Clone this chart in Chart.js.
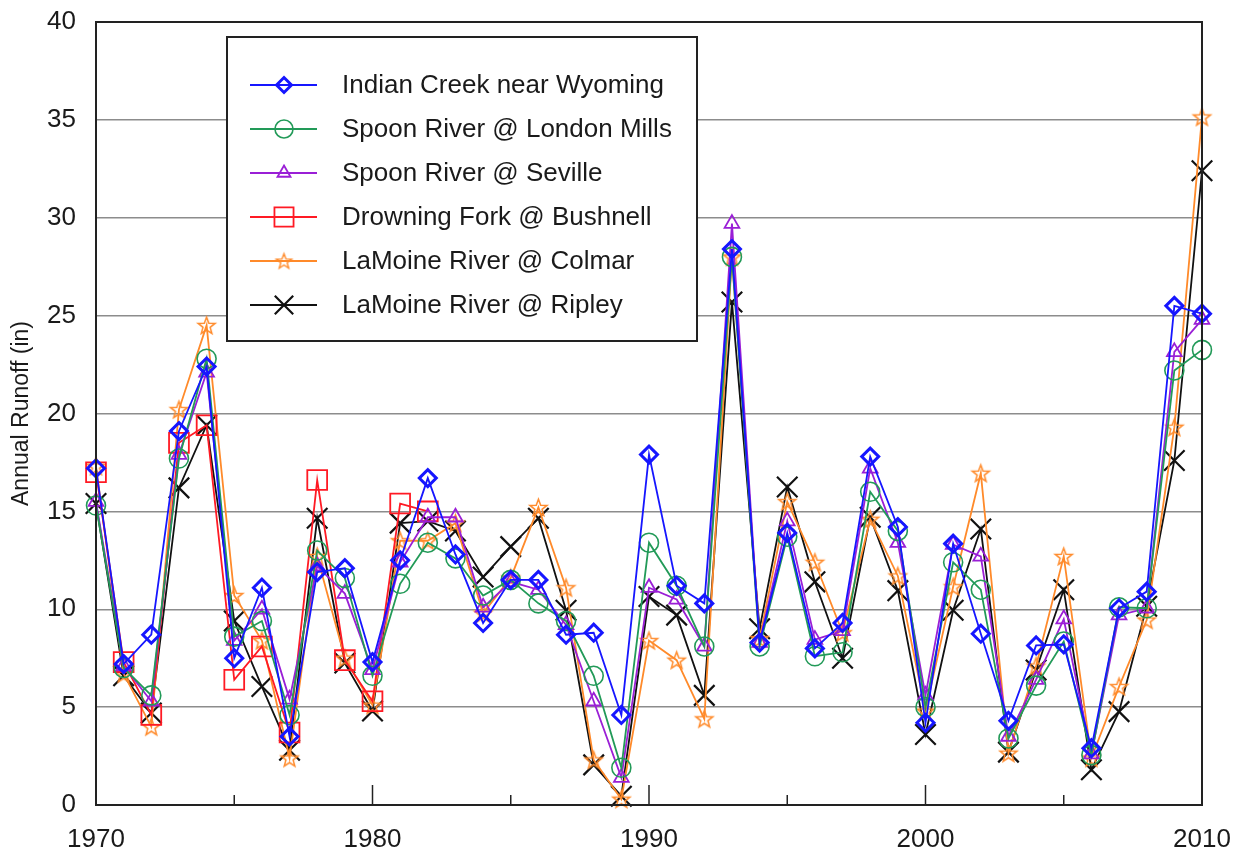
<!DOCTYPE html>
<html>
<head>
<meta charset="utf-8">
<script src="https://cdn.jsdelivr.net/npm/chart.js@4/dist/chart.umd.min.js"></script>
<style>
html,body{margin:0;padding:0;background:#fff;}
#wrap{width:1245px;height:853px;}
</style>
</head>
<body>
<div id="wrap"><canvas id="c" width="1245" height="853"></canvas></div>
<script>
const years = [1970,1971,1972,1973,1974,1975,1976,1977,1978,1979,1980,1981,1982,1983,1984,1985,1986,1987,1988,1989,1990,1991,1992,1993,1994,1995,1996,1997,1998,1999,2000,2001,2002,2003,2004,2005,2006,2007,2008,2009,2010];
const xTickLabels = [1970,1980,1990,2000,2010];
const yTickValues = [0,5,10,15,20,25,30,35,40];

const indianCreek = [17.2,7.2,8.7,19.1,22.4,7.5,11.1,3.5,11.9,12.1,7.3,12.5,16.7,12.8,9.3,11.5,11.5,8.7,8.8,4.6,17.9,11.2,10.3,28.4,8.3,13.9,8.0,9.3,17.8,14.2,4.2,13.35,8.75,4.3,8.15,8.2,2.9,10.05,10.9,25.5,25.1];
const londonMills = [15.3,7.0,5.6,17.7,22.8,8.6,9.4,4.6,13.0,11.6,6.6,11.3,13.4,12.6,10.7,11.5,10.3,9.4,6.6,1.9,13.4,11.2,8.1,28.0,8.1,13.7,7.6,7.8,16.0,14.0,5.0,12.4,11.0,3.4,6.1,8.35,2.55,10.1,10.05,22.2,23.25];
const seville = [15.5,7.1,5.3,17.9,22.1,8.4,10.0,5.4,12.2,10.8,6.9,12.4,14.7,14.7,10.1,11.4,11.0,9.2,5.3,1.4,11.1,10.5,8.1,29.7,8.3,14.5,8.45,8.9,17.2,13.4,5.6,13.3,12.7,3.5,6.4,9.5,2.6,9.7,10.05,23.15,24.8];
const drowningFork = [17.0,7.3,4.6,18.5,19.4,6.4,8.1,3.7,16.6,7.4,5.3,15.4,15.0,null,null,null,null,null,null,null,null,null,null,null,null,null,null,null,null,null,null,null,null,null,null,null,null,null,null,null,null];
const colmar = [17.3,6.7,4.0,20.2,24.5,10.7,8.4,2.4,12.7,7.5,5.1,13.5,13.5,14.4,9.8,11.6,15.2,11.1,2.3,0.3,8.4,7.4,4.4,28.0,8.5,15.5,12.4,8.8,14.6,11.7,4.8,11.15,16.95,2.65,7.1,12.7,2.4,6.05,9.45,19.3,35.15];
const ripley = [15.4,6.6,4.7,16.2,19.4,9.4,6.05,2.8,14.65,7.25,4.8,14.4,14.5,14.0,11.65,13.2,14.65,9.95,2.05,0.45,10.65,9.7,5.6,25.7,9.0,16.25,11.4,7.5,14.7,10.95,3.6,9.95,14.1,2.7,6.9,11.0,1.8,4.77,10.15,17.6,32.4];

const seriesNames = ['Indian Creek near Wyoming','Spoon River @ London Mills','Spoon River @ Seville','Drowning Fork @ Bushnell','LaMoine River @ Colmar','LaMoine River @ Ripley'];
const seriesValues = [indianCreek, londonMills, seville, drowningFork, colmar, ripley];

function makeStar(color, r, lw){
  const s = Math.ceil(r*2+lw*2+2);
  const cv = document.createElement('canvas');
  cv.width = s; cv.height = s;
  const g = cv.getContext('2d');
  g.strokeStyle = color; g.lineWidth = lw; g.lineJoin='miter';
  const cx = s/2, cy = s/2 + r*0.08, ri = r*0.42;
  g.beginPath();
  for(let i=0;i<10;i++){
    const a = -Math.PI/2 + i*Math.PI/5;
    const rr = i%2===0 ? r : ri;
    const px = cx + rr*Math.cos(a), py = cy + rr*Math.sin(a);
    if(i===0) g.moveTo(px,py); else g.lineTo(px,py);
  }
  g.closePath(); g.stroke();
  return cv;
}
const starImg = makeStar('#ff8a2a', 9, 1.5);
const starLegend = makeStar('#ff8a2a', 8, 1.4);

const styles = [
  {color:'#1616ff', pointStyle:'rectRot', radius:8.5, pbw:3, legendStyle:'rectRot', legendRadius:7.5},
  {color:'#229a58', pointStyle:'circle', radius:9.5, pbw:1.6, legendStyle:'circle', legendRadius:9},
  {color:'#9a1fd6', pointStyle:'triangle', radius:8.5, pbw:1.8, legendStyle:'triangle', legendRadius:7.5},
  {color:'#ff1a24', pointStyle:'rect', radius:14, pbw:1.8, legendStyle:'rect', legendRadius:13.5},
  {color:'#ff8a2a', pointStyle:starImg, radius:9, pbw:1.5, legendStyle:starLegend, legendRadius:8},
  {color:'#111111', pointStyle:'crossRot', radius:14.5, pbw:2.2, legendStyle:'crossRot', legendRadius:13}
];

const datasets = seriesValues.map((vals, i) => ({
  label: seriesNames[i],
  data: years.map((y, k) => ({x: y, y: vals[k]})),
  borderColor: styles[i].color,
  backgroundColor: 'rgba(255,255,255,0)',
  borderWidth: 1.8,
  pointStyle: styles[i].pointStyle,
  pointRadius: styles[i].radius,
  pointBorderWidth: styles[i].pbw,
  pointBorderColor: styles[i].color,
  pointBackgroundColor: 'rgba(255,255,255,0)',
  tension: 0,
  spanGaps: false,
  clip: false
}));

const FONT = "'Liberation Sans', Arial, Helvetica, sans-serif";

const framePlugin = {
  id: 'frame',
  afterDraw(chart){
    const ctx = chart.ctx, a = chart.chartArea, xs = chart.scales.x;
    ctx.save();
    ctx.strokeStyle = '#222'; ctx.lineWidth = 1.5;
    for(let yr = 1970; yr <= 2010; yr += 5){
      const px = xs.getPixelForValue(yr);
      const len = (yr % 10 === 0) ? 20 : 10;
      ctx.beginPath(); ctx.moveTo(px, a.bottom); ctx.lineTo(px, a.bottom - len); ctx.stroke();
    }
    ctx.strokeStyle = '#222'; ctx.lineWidth = 2;
    ctx.strokeRect(a.left, a.top, a.right - a.left, a.bottom - a.top);
    const bx = 227, by = 37, bw = 470, bh = 304;
    ctx.fillStyle = '#fff';
    ctx.fillRect(bx, by, bw, bh);
    ctx.strokeStyle = '#222'; ctx.lineWidth = 2;
    ctx.strokeRect(bx, by, bw, bh);
    ctx.font = '26px ' + FONT;
    ctx.textBaseline = 'middle'; ctx.textAlign = 'left';
    for(let i=0;i<seriesNames.length;i++){
      const cy = 85 + i*44;
      const st = styles[i];
      ctx.strokeStyle = st.color; ctx.lineWidth = 1.8;
      ctx.beginPath(); ctx.moveTo(250, cy); ctx.lineTo(317, cy); ctx.stroke();
      ctx.lineWidth = st.pbw;
      ctx.fillStyle = 'rgba(255,255,255,0)';
      Chart.helpers.drawPoint(ctx, {pointStyle: st.legendStyle, radius: st.legendRadius, rotation: 0, borderWidth: st.pbw}, 284, cy);
      ctx.fillStyle = '#1a1a1a';
      ctx.fillText(seriesNames[i], 342, cy + 1);
    }
    ctx.restore();
  }
};

new Chart(document.getElementById('c'), {
  type: 'line',
  data: { datasets },
  options: {
    responsive: false,
    animation: false,
    layout: { padding: { top: 22, right: 43, bottom: 0, left: 0 } },
    plugins: { legend: { display: false }, tooltip: { enabled: false } },
    scales: {
      x: {
        type: 'linear',
        min: 1970, max: 2010,
        afterFit(s){ s.height = 48; s.paddingLeft = 0; s.paddingRight = 0; },
        afterBuildTicks(s){ s.ticks = xTickLabels.map(v => ({value: v})); },
        ticks: { color: '#1a1a1a', font: { family: FONT, size: 26 }, padding: 19, maxRotation: 0, callback: v => String(v) },
        grid: { display: false, drawTicks: false },
        border: { display: false }
      },
      y: {
        min: 0, max: 40,
        afterFit(s){ s.width = 96; s.paddingTop = 0; s.paddingBottom = 0; },
        afterBuildTicks(s){ s.ticks = yTickValues.map(v => ({value: v})); },
        ticks: { color: '#1a1a1a', font: { family: FONT, size: 26 }, padding: 20, callback: v => String(v) },
        grid: { color: '#8c8c8c', lineWidth: 1.5, drawTicks: false },
        border: { display: false },
        title: { display: true, text: 'Annual Runoff (in)', color: '#1a1a1a', font: { family: FONT, size: 23 }, padding: { top: 8, bottom: 0 } }
      }
    }
  },
  plugins: [framePlugin]
});
</script>
</body>
</html>
